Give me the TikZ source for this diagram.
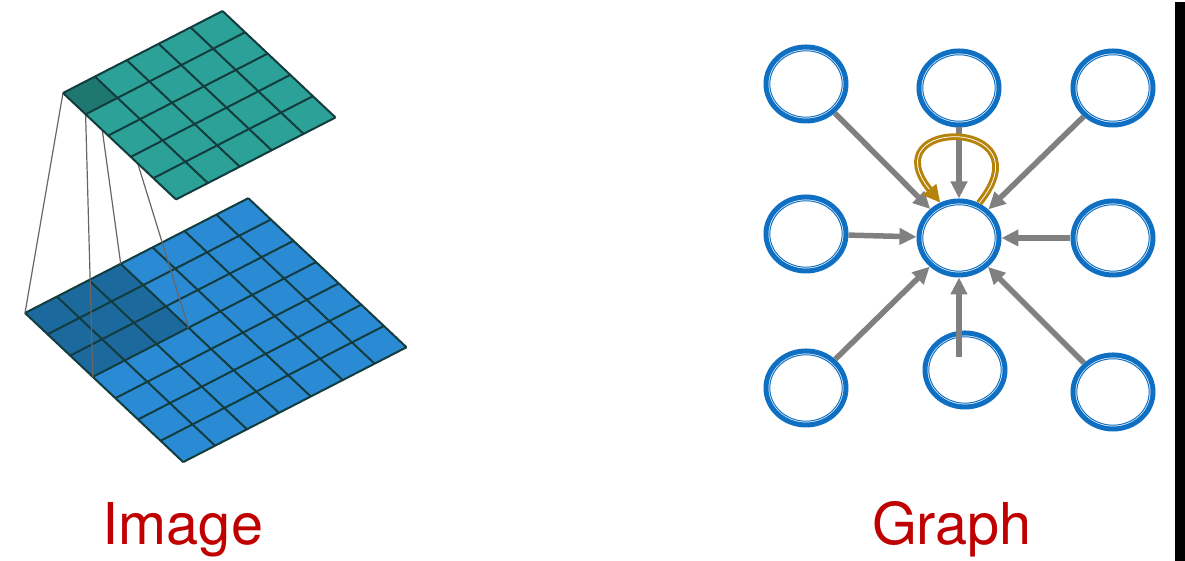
\documentclass[tikz,border=0pt]{standalone}
\usepackage{fontspec}
\setmainfont{TeX Gyre Heros}
\usetikzlibrary{arrows.meta,shapes.geometric}

\definecolor{tealcell}{HTML}{2BA197}
\definecolor{tealdark}{HTML}{1E7871}
\definecolor{bluecell}{HTML}{2A8AD4}
\definecolor{bluedark}{HTML}{1C699E}
\definecolor{gridline}{HTML}{123C3E}
\definecolor{ringblue}{HTML}{0F6FC2}
\definecolor{edgegray}{HTML}{808080}
\definecolor{loopgold}{HTML}{B5820A}
\definecolor{labelred}{HTML}{C00000}

\tikzset{
  topgrid/.style={shift={(0.63,4.68)}, x={(0.319cm,0.164cm)}, y={(0.226cm,-0.213cm)}},
  botgrid/.style={shift={(0.25,2.48)}, x={(0.319cm,0.164cm)}, y={(0.226cm,-0.213cm)}},
  cellline/.style={draw=gridline, line width=0.02cm},
  apexline/.style={draw=black!60, line width=0.012cm},
  vertex/.style={ellipse, draw=ringblue, line width=0.05cm, minimum width=0.8cm,
    minimum height=0.74cm, inner sep=0pt, fill=white,
    path picture={\draw[ringblue, line width=0.01cm] (path picture bounding box.center) ellipse (0.362cm and 0.332cm);}},
  msg/.style={draw=edgegray, line width=0.055cm, -{Triangle[length=0.17cm,width=0.16cm]}},
  selfmsg/.style={draw=loopgold, line width=0.03cm, double=white, double distance=0.008cm,
    -{Triangle[length=0.17cm,width=0.17cm]}},
  caption/.style={text=labelred, font=\fontsize{16.4}{20}\selectfont, anchor=base}
}

\begin{document}
\begin{tikzpicture}
\useasboundingbox (0,0) rectangle (11.85,5.61);

% input image
\begin{scope}[botgrid]
\fill[bluecell] (0,0) -- (7,0) -- (7,7) -- (0,7) -- cycle;
\fill[bluedark] (0,0) -- (3,0) -- (3,3) -- (0,3) -- cycle;
\foreach \i in {0,...,7} {
  \draw[cellline] (\i,0) -- (\i,7);
  \draw[cellline] (0,\i) -- (7,\i);
}
\coordinate (q0) at (0,0);
\coordinate (q1) at (3,0);
\coordinate (q2) at (0,3);
\coordinate (q3) at (3,3);
\end{scope}

\begin{scope}[topgrid]
\coordinate (k0) at (0,0);
\coordinate (k1) at (1,0);
\coordinate (k2) at (0,1);
\coordinate (k3) at (1,1);
\end{scope}

\foreach \n in {0,...,3}
  \draw[apexline] (k\n) -- (q\n);

% feature map
\begin{scope}[topgrid]
\fill[tealcell] (0,0) -- (5,0) -- (5,5) -- (0,5) -- cycle;
\fill[tealdark] (0,0) -- (1,0) -- (1,1) -- (0,1) -- cycle;
\foreach \i in {0,...,5} {
  \draw[cellline] (\i,0) -- (\i,5);
  \draw[cellline] (0,\i) -- (5,\i);
}
\end{scope}

% graph
\node[vertex] (tl) at (8.06,4.77) {};
\node[vertex] (tm) at (9.59,4.73) {};
\node[vertex] (tr) at (11.13,4.73) {};
\node[vertex] (ml) at (8.06,3.27) {};
\node[vertex] (c) at (9.59,3.23) {};
\node[vertex] (mr) at (11.13,3.23) {};
\node[vertex] (bl) at (8.06,1.73) {};
\node[vertex] (bm) at (9.65,1.91) {};
\node[vertex] (br) at (11.13,1.69) {};
\coordinate (bmtail) at (9.59,2.04);

\foreach \s in {tl,tm,tr,ml,mr,bl,br}
  \draw[msg] (\s) -- (c);
\draw[msg] (bmtail) -- (c);
\draw[selfmsg] (c.60) .. controls +(0.7,0.86) and +(-0.7,0.86) .. (c.118);

\fill[black] (11.75,0) rectangle (11.85,5.59);

\node[caption] (imglabel) at (1.83,0.16) {Image};
\node[caption] (graphlabel) at (9.52,0.16) {Graph};
\end{tikzpicture}
\end{document}
